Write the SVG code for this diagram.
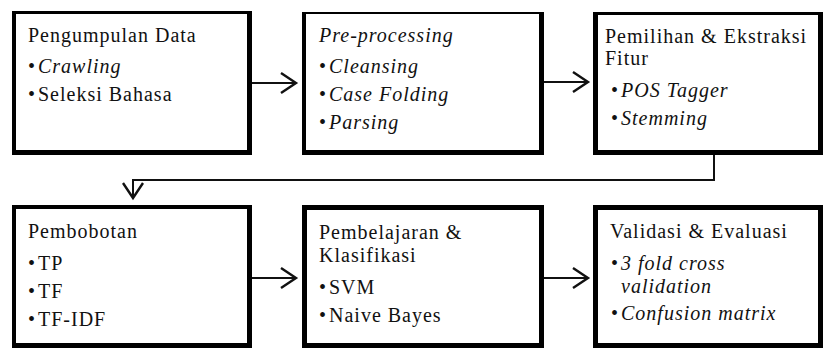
<svg xmlns="http://www.w3.org/2000/svg" width="824" height="349" viewBox="0 0 824 349">
<style>
  .frame { fill: #000; }
  .inner { fill: #fff; }
  .t text { font-size: 20px; fill: #111; letter-spacing: 1px; }
  .it { font-style: italic; }
  .conn { fill: none; stroke: #111; stroke-width: 2; }
</style>
<defs>
  <marker id="chev" markerUnits="userSpaceOnUse" markerWidth="20" markerHeight="24" refX="16" refY="11" orient="auto" viewBox="0 0 20 24">
    <path d="M1,1 L16,11 L1,21" fill="none" stroke="#111" stroke-width="2.4"/>
  </marker>
</defs>
<g id="connectors">
  <line class="conn" x1="252" y1="83" x2="296" y2="83" marker-end="url(#chev)"/>
  <line class="conn" x1="544" y1="82" x2="588" y2="82" marker-end="url(#chev)"/>
  <polyline class="conn" points="714,155 714,180 133,180 133,198" stroke-width="1.6" marker-end="url(#chev)"/>
  <line class="conn" x1="252" y1="278" x2="296" y2="278" marker-end="url(#chev)"/>
  <line class="conn" x1="544" y1="278" x2="588" y2="278" marker-end="url(#chev)"/>
</g>
<g class="t" font-family="'Liberation Serif', 'Times New Roman', 'DejaVu Serif', serif">
<g id="pengumpulan">
  <rect class="frame" x="12" y="11" width="240" height="144"/>
  <rect class="inner" x="16" y="14" width="231" height="136"/>
  <text x="28" y="42">Pengumpulan Data</text>
  <text x="28" y="73">•</text><text x="38" y="73" class="it">Crawling</text>
  <text x="28" y="101">•</text><text x="38" y="101">Seleksi Bahasa</text>
</g>
<g id="preprocessing">
  <rect class="frame" x="302" y="12" width="242" height="143"/>
  <rect class="inner" x="306" y="14" width="233" height="136"/>
  <text x="319" y="42" class="it">Pre-processing</text>
  <text x="319" y="73">•</text><text x="329" y="73" class="it">Cleansing</text>
  <text x="319" y="101">•</text><text x="329" y="101" class="it">Case Folding</text>
  <text x="319" y="129">•</text><text x="329" y="129" class="it">Parsing</text>
</g>
<g id="pemilihan">
  <rect class="frame" x="593" y="12" width="230" height="143"/>
  <rect class="inner" x="598" y="15" width="220" height="135"/>
  <text x="605" y="43">Pemilihan &amp; Ekstraksi</text>
  <text x="605" y="65">Fitur</text>
  <text x="611" y="97">•</text><text x="621" y="97" class="it">POS Tagger</text>
  <text x="611" y="125">•</text><text x="621" y="125" class="it">Stemming</text>
</g>
<g id="pembobotan">
  <rect class="frame" x="12" y="205" width="240" height="143"/>
  <rect class="inner" x="16" y="209" width="231" height="134"/>
  <text x="28" y="238">Pembobotan</text>
  <text x="28" y="270">•</text><text x="38" y="270">TP</text>
  <text x="28" y="298">•</text><text x="38" y="298">TF</text>
  <text x="28" y="326">•</text><text x="38" y="326">TF-IDF</text>
</g>
<g id="pembelajaran">
  <rect class="frame" x="302" y="205" width="242" height="143"/>
  <rect class="inner" x="307" y="210" width="232" height="133"/>
  <text x="319" y="239">Pembelajaran &amp;</text>
  <text x="319" y="262">Klasifikasi</text>
  <text x="319" y="294">•</text><text x="329" y="294">SVM</text>
  <text x="319" y="322">•</text><text x="329" y="322">Naive Bayes</text>
</g>
<g id="validasi">
  <rect class="frame" x="593" y="205" width="230" height="143"/>
  <rect class="inner" x="598" y="210" width="220" height="133"/>
  <text x="610" y="238">Validasi &amp; Evaluasi</text>
  <text x="611" y="270">•</text><text x="621" y="270" class="it">3 fold cross</text>
  <text x="621" y="293" class="it">validation</text>
  <text x="611" y="320">•</text><text x="621" y="320" class="it">Confusion matrix</text>
</g>
</g>
</svg>
